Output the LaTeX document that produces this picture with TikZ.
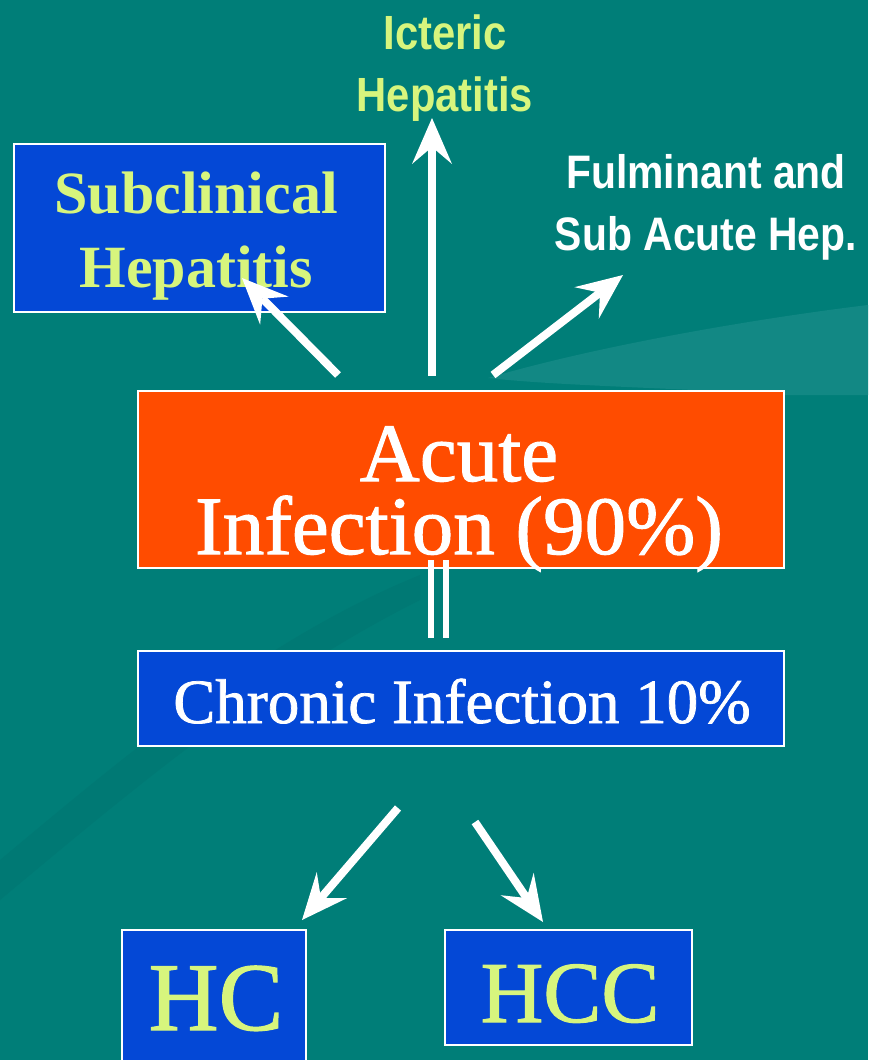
\documentclass[tikz,border=0pt]{standalone}
\usepackage{fontspec}
\setmainfont{Liberation Serif}
\newfontfamily\heavyserif{Liberation Serif}[FakeBold=1.2]
\newfontfamily\hsans{Liberation Sans}[FakeStretch=0.87]
\usetikzlibrary{arrows.meta}
\definecolor{bgteal}{RGB}{0,126,120}
\definecolor{bglight}{RGB}{18,136,132}
\definecolor{bgdark}{RGB}{0,121,116}
\definecolor{boxblue}{RGB}{4,72,214}
\definecolor{boxorange}{RGB}{255,76,0}
\definecolor{lime}{RGB}{215,245,125}
\tikzset{
  box/.style={draw=white, line width=1.5pt, inner sep=0pt},
  bluebox/.style={box, fill=boxblue},
  orangebox/.style={box, fill=boxorange},
  serif/.style={inner sep=0pt, align=center},
  sanslabel/.style={inner sep=0pt, align=center, font=\hsans\bfseries\fontsize{48}{62}\selectfont},
  arr/.style={draw=white, line width=8pt, -{Stealth[length=46pt,width=40pt,inset=17pt,line width=0pt]}},
  dbl/.style={draw=white, line width=6pt}
}
\begin{document}
\begin{tikzpicture}[x=1pt,y=-1pt]
\useasboundingbox (0,0) rectangle (868,1060);
\fill[bgteal] (0,0) rectangle (868,1060);
% faint background swooshes
\fill[bglight] (488,378) .. controls (600,345) and (760,318) .. (868,305) -- (868,395) -- (784,395) .. controls (680,388) and (560,386) .. (488,378) -- cycle;
\fill[bgdark] (0,860) .. controls (120,760) and (260,640) .. (420,575) -- (420,600) .. controls (260,680) and (120,800) .. (0,900) -- cycle;

% boxes
\node[bluebox, minimum width=371pt, minimum height=168pt] (sub) at (199.5,228) {};
\node[orangebox, minimum width=646pt, minimum height=177pt] (acute) at (461,479.5) {};
\node[bluebox, minimum width=646pt, minimum height=95pt] (chronic) at (461,698.5) {};
\node[bluebox, minimum width=184pt, minimum height=140pt] (hc) at (214,1000) {};
\node[bluebox, minimum width=247pt, minimum height=115pt] (hcc) at (568.5,987.5) {};

% texts
\node[serif, text=lime, font=\bfseries\fontsize{60}{74}\selectfont] (subtxt) at (196,236.5) {Subclinical\\Hepatitis};
\node[serif, text=white, font=\heavyserif\fontsize{83}{73}\selectfont] (acutetxt) at (459,499) {Acute\\Infection (90\%)};
\node[serif, text=white, font=\heavyserif\fontsize{63}{72}\selectfont, anchor=base] (chrtxt) at (462,723) {Chronic Infection 10\%};
\node[serif, text=lime, font=\heavyserif\fontsize{97}{100}\selectfont, anchor=base] (hctxt) at (216,1030) {HC};
\node[serif, text=lime, font=\heavyserif\fontsize{87}{100}\selectfont, anchor=base] (hcctxt) at (570,1022) {HCC};
\node[sanslabel, text=lime] (icteric) at (445,68.5) {Icteric\\Hepatitis};
\node[sanslabel, text=white, font=\hsans\bfseries\fontsize{47}{62}\selectfont] (fulm) at (706,207.5) {Fulminant and\\Sub Acute Hep.};

% arrow end points
\coordinate (upS) at (432,376);
\coordinate (upE) at (432,118);
\coordinate (subS) at (338,375);
\coordinate (subE) at (242,278);
\coordinate (fulS) at (493,375);
\coordinate (fulE) at (623,275);
\coordinate (hcS) at (398,808);
\coordinate (hcE) at (302,920);
\coordinate (hccS) at (475,822);
\coordinate (hccE) at (543,922);
\coordinate (dblS) at (438.5,560);
\coordinate (dblE) at (438.5,638);

\draw[arr] (upS) -- (upE);
\draw[arr] (subS) -- (subE);
\draw[arr] (fulS) -- (fulE);
\draw[arr] (hcS) -- (hcE);
\draw[arr] (hccS) -- (hccE);
\draw[dbl] ([xshift=-7.5pt]dblS) -- ([xshift=-7.5pt]dblE);
\draw[dbl] ([xshift=7.5pt]dblS) -- ([xshift=7.5pt]dblE);
\end{tikzpicture}
\end{document}
